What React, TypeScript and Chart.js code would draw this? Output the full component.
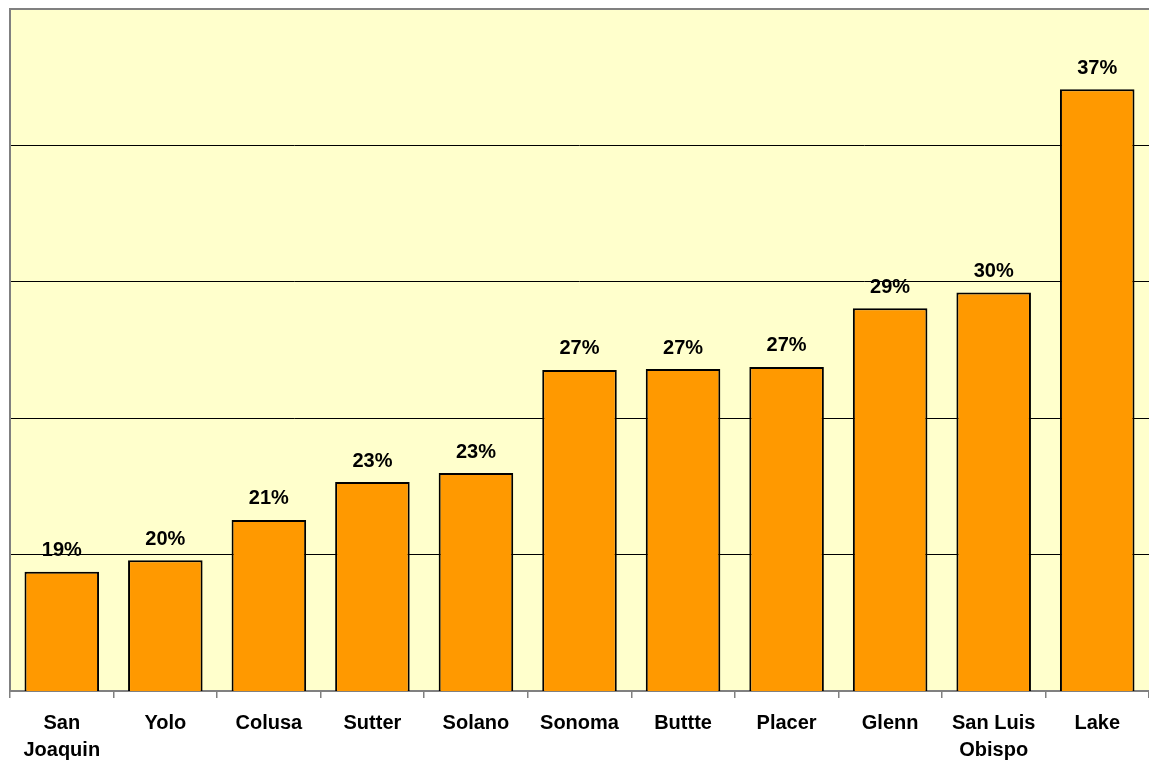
import React, { useEffect, useRef } from "react";
import { Chart, registerables } from "chart.js";

Chart.register(...registerables);

const categories: (string | string[])[] = [
  ["San", "Joaquin"],
  "Yolo",
  "Colusa",
  "Sutter",
  "Solano",
  "Sonoma",
  "Buttte",
  "Placer",
  "Glenn",
  ["San Luis", "Obispo"],
  "Lake",
];

const values: number[] = [19.37, 19.79, 21.27, 22.66, 22.99, 26.77, 26.8, 26.88, 29.03, 29.61, 37.06];

const valueLabels: string[] = ["19%", "20%", "21%", "23%", "23%", "27%", "27%", "27%", "29%", "30%", "37%"];

const yMin = 15;
const yMax = 40;
const yStep = 5;

const FONT = '"Liberation Sans", Arial, Helvetica, sans-serif';

const plotBackground = {
  id: "plotBackground",
  beforeDraw(chart: any) {
    const { ctx, chartArea } = chart;
    ctx.save();
    ctx.fillStyle = "#FFFFCC";
    ctx.fillRect(chartArea.left, chartArea.top, chartArea.right - chartArea.left, chartArea.bottom - chartArea.top);
    ctx.restore();
  },
  afterDraw(chart: any) {
    const { ctx, chartArea } = chart;
    ctx.save();
    ctx.strokeStyle = "#808080";
    ctx.lineWidth = 2;
    ctx.beginPath();
    ctx.moveTo(chartArea.left, chartArea.bottom);
    ctx.lineTo(chartArea.left, chartArea.top);
    ctx.lineTo(chartArea.right, chartArea.top);
    ctx.stroke();
    ctx.restore();
  },
};

const barLabels = {
  id: "barLabels",
  afterDatasetsDraw(chart: any) {
    const { ctx } = chart;
    const meta = chart.getDatasetMeta(0);
    ctx.save();
    ctx.fillStyle = "#000000";
    ctx.font = `bold 20px ${FONT}`;
    ctx.textAlign = "center";
    ctx.textBaseline = "middle";
    meta.data.forEach((bar: any, i: number) => {
      ctx.fillText(valueLabels[i], bar.x, bar.y - 21);
    });
    ctx.restore();
  },
};

export default function App() {
  const canvasRef = useRef<HTMLCanvasElement | null>(null);

  useEffect(() => {
    if (!canvasRef.current) return;
    const chart = new Chart(canvasRef.current, {
      type: "bar",
      data: {
        labels: categories,
        datasets: [
          {
            data: values,
            backgroundColor: "#FF9900",
            borderColor: "#000000",
            borderWidth: 2,
            categoryPercentage: 1,
            barPercentage: 0.72,
          },
        ],
      },
      options: {
        animation: false,
        responsive: false,
        maintainAspectRatio: false,
        layout: { padding: { left: 10, top: 9, right: 0, bottom: -14 } },
        plugins: {
          legend: { display: false },
          tooltip: { enabled: false },
          title: { display: false },
        },
        scales: {
          x: {
            offset: true,
            grid: {
              display: true,
              drawOnChartArea: false,
              drawTicks: true,
              tickLength: 7,
              color: "#808080",
              lineWidth: 1.5,
              offset: true,
            },
            border: { display: true, color: "#808080", width: 2 },
            ticks: {
              color: "#000000",
              padding: 12,
              maxRotation: 0,
              autoSkip: false,
              font: { family: FONT, size: 20, weight: "bold", lineHeight: 1.35 },
            },
          },
          y: {
            min: yMin,
            max: yMax,
            grid: {
              color: "#000000",
              lineWidth: 1,
              drawTicks: false,
            },
            border: { display: false },
            ticks: { display: false, stepSize: yStep },
          },
        },
      },
      plugins: [plotBackground, barLabels],
    });
    return () => chart.destroy();
  }, []);

  return (
    <div style={{ position: "absolute", left: 0, top: 0, width: 1149, height: 762, background: "#ffffff", overflow: "hidden" }}>
      <canvas ref={canvasRef} width={1149} height={762} style={{ width: 1149, height: 762, display: "block" }} />
    </div>
  );
}
